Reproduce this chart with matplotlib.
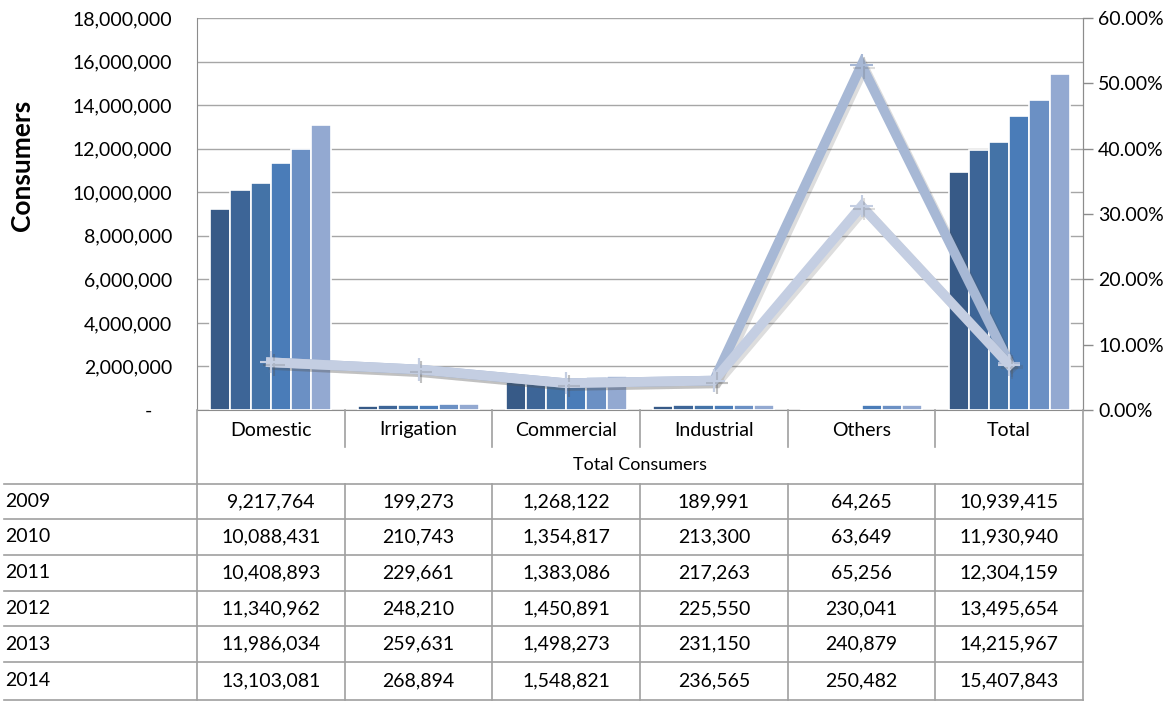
import numpy as np
import matplotlib
matplotlib.use("Agg")
import matplotlib.pyplot as plt
from matplotlib.ticker import FuncFormatter, MultipleLocator
import matplotlib.patheffects as pe

plt.rcParams['font.family'] = ['Lato', 'DejaVu Sans']

# data
categories = ['Domestic', 'Irrigation', 'Commercial', 'Industrial', 'Others', 'Total']
years = ['2009', '2010', '2011', '2012', '2013', '2014']
consumers = {
    '2009': [9217764, 199273, 1268122, 189991, 64265, 10939415],
    '2010': [10088431, 210743, 1354817, 213300, 63649, 11930940],
    '2011': [10408893, 229661, 1383086, 217263, 65256, 12304159],
    '2012': [11340962, 248210, 1450891, 225550, 230041, 13495654],
    '2013': [11986034, 259631, 1498273, 231150, 240879, 14215967],
    '2014': [13103081, 268894, 1548821, 236565, 250482, 15407843],
}
# growth rates (%)
growth_a = [7.3, 6.2, 4.1, 4.5, 52.8, 7.2]
growth_b = [7.3, 6.2, 4.1, 4.5, 31.2, 6.9]
table_title = 'Total Consumers'

bar_colors = ['#375a87', '#3d6597', '#4473a7', '#4a7cb8', '#6b90c4', '#93a9d1']
txt = '#000000'
fs = 14
W, H = 1173, 703
fig = plt.figure(figsize=(W / 100, H / 100), dpi=100)
left, right, top, bottom = 197, 1083, 18, 410
ax = fig.add_axes([left / W, 1 - bottom / H, (right - left) / W, (bottom - top) / H])

x = np.arange(len(categories))
n = len(years)
group = 0.82
bw = group / n
for i, yr in enumerate(years):
    ax.bar(x - group / 2 + bw * (i + 0.5), consumers[yr], width=bw,
           color=bar_colors[i], edgecolor='white', linewidth=1.2, zorder=3)

ax.set_xlim(-0.5, len(categories) - 0.5)
ax.set_ylim(0, 18e6)
ax.yaxis.set_major_locator(MultipleLocator(2e6))
ax.yaxis.set_major_formatter(FuncFormatter(lambda v, p: '-    ' if v == 0 else f'{v:,.0f}'))
ax.set_xticks([])
ax.grid(axis='y', color='#a6a6a6', linewidth=1, zorder=0)
ax.tick_params(axis='y', length=0, pad=18, labelsize=fs, labelcolor=txt)
ax.spines['top'].set_visible(False)
for s in ['left', 'right', 'bottom']:
    ax.spines[s].set_color('#8c8c8c')

ax2 = ax.twinx()
ax2.set_ylim(0, 60)
ax2.yaxis.set_major_locator(MultipleLocator(10))
ax2.yaxis.set_major_formatter(FuncFormatter(lambda v, p: f'{v:.2f}%'))
ax2.tick_params(axis='y', length=7, width=1, color='#8c8c8c', pad=4, labelsize=fs, labelcolor=txt)
for s in ['top', 'left', 'bottom']:
    ax2.spines[s].set_visible(False)
ax2.spines['right'].set_color('#8c8c8c')
shadow = [pe.SimpleLineShadow(offset=(2, -2), alpha=0.2, shadow_color='#555555'), pe.Normal()]
ax2.plot(x, growth_a, color='#a7b8d5', linewidth=7, marker='+', markersize=16, mew=1.5,
         solid_joinstyle='miter', zorder=4, path_effects=shadow)
ax2.plot(x, growth_b, color='#c4cee2', linewidth=7, marker='+', markersize=16, mew=1.5,
         solid_joinstyle='miter', zorder=5, path_effects=shadow)

fig.text(22 / W, 1 - 165 / H, 'Consumers', rotation=90, ha='center', va='center',
         fontsize=19, fontweight='bold', color=txt)

# data table below the chart, in pixel coordinates
tb = fig.add_axes([0, 0, 1, 1])
tb.set_xlim(0, W)
tb.set_ylim(H, 0)
tb.axis('off')
lc = '#a0a0a0'
edges = np.linspace(left, right, len(categories) + 1)
centers = (edges[:-1] + edges[1:]) / 2
row_lines = [484, 519, 555, 591, 626, 662, 700]
tb.plot([left, left], [bottom, 700], color=lc, lw=1.2)
tb.plot([right, right], [bottom, 700], color=lc, lw=1.2)
for e in edges[1:-1]:
    tb.plot([e, e], [bottom, 447], color=lc, lw=1.2)
    tb.plot([e, e], [484, 700], color=lc, lw=1.2)
for yl in row_lines:
    tb.plot([4, right], [yl, yl], color=lc, lw=1.2)
for c, name in zip(centers, categories):
    tb.text(c, 430, name, ha='center', va='center', fontsize=fs, color=txt)
tb.text((left + right) / 2, 465, table_title, ha='center', va='center', fontsize=13, color=txt)
for r, yr in enumerate(years):
    yc = (row_lines[r] + row_lines[r + 1]) / 2
    tb.text(5, yc, yr, ha='left', va='center', fontsize=fs, color=txt)
    for c, v in zip(centers, consumers[yr]):
        tb.text(c, yc, f'{v:,}', ha='center', va='center', fontsize=fs, color=txt)

fig.savefig('out.png', dpi=100)
